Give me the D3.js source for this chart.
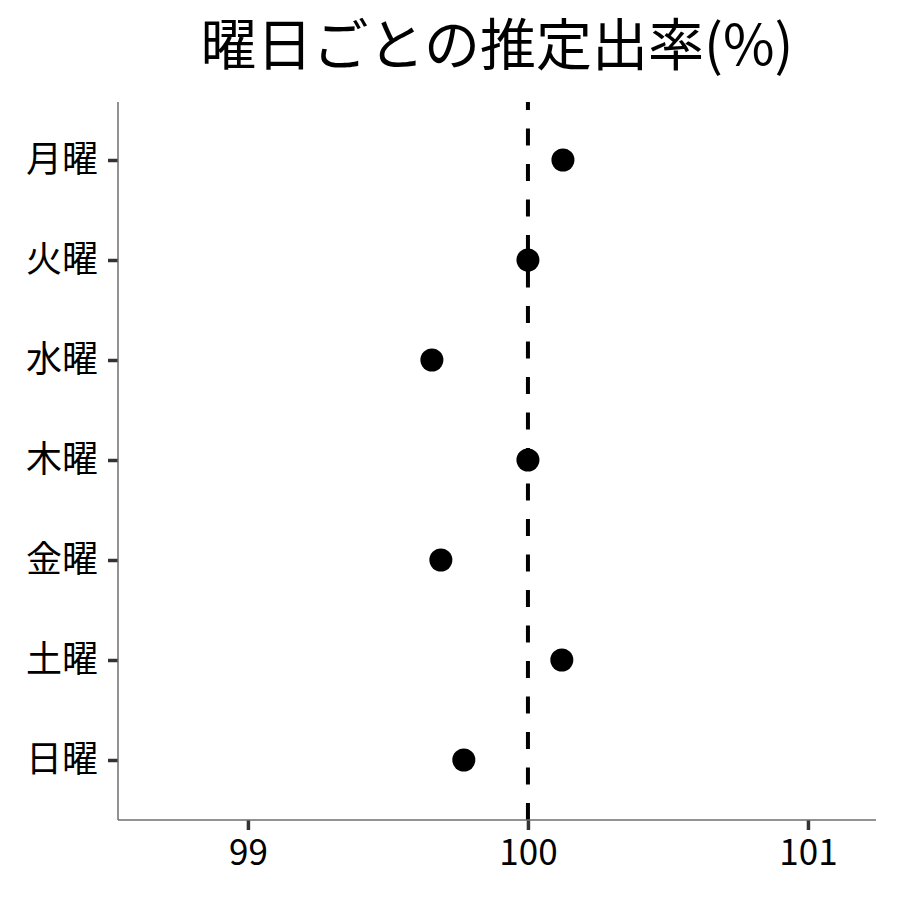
<!DOCTYPE html>
<html lang="ja">
<head>
<meta charset="UTF-8">
<title>曜日ごとの推定出率</title>
<script src="https://cdn.jsdelivr.net/npm/d3@7"></script>
<style>
    body { margin: 0; background: #fff; }
    svg { font-family: "Noto Sans CJK JP", "Noto Sans", sans-serif; }
</style>
</head>
<body>
<div id="chart"></div>
<script>
    // data
    const days = ["月曜", "火曜", "水曜", "木曜", "金曜", "土曜", "日曜"];
    const rates = [100.125, 100.0, 99.657, 100.0, 99.689, 100.121, 99.771];
    const xTicks = [99, 100, 101];
    const refLine = 100;

    const width = 900, height = 900;
    const margin = { top: 102, right: 24, bottom: 80, left: 118 };

    const svg = d3.select("#chart").append("svg")
        .attr("width", width)
        .attr("height", height);

    const x = d3.scaleLinear()
        .domain([98.536, 101.243])
        .range([margin.left, width - margin.right]);

    // discrete scale with ggplot-like 0.6 expansion
    const y = d3.scalePoint()
        .domain(days)
        .range([margin.top + 58, height - margin.bottom - 60]);

    const panelTop = margin.top, panelBottom = height - margin.bottom;

    // title
    svg.append("text")
        .attr("x", (margin.left + width - margin.right) / 2)
        .attr("y", 65)
        .attr("text-anchor", "middle")
        .attr("font-size", 56)
        .attr("fill", "#000")
        .text("曜日ごとの推定出率(%)");

    // reference line, drawn bottom to top
    svg.append("line")
        .attr("x1", x(refLine)).attr("x2", x(refLine))
        .attr("y1", panelBottom).attr("y2", panelTop)
        .attr("stroke", "#000")
        .attr("stroke-width", 4)
        .attr("stroke-dasharray", "17,18.5");

    // axes
    const xAxis = svg.append("g")
        .attr("transform", `translate(0,${panelBottom})`)
        .call(d3.axisBottom(x).tickValues(xTicks).tickSize(10).tickPadding(10).tickFormat(d3.format("d")));
    xAxis.select(".domain").remove();
    xAxis.selectAll(".tick line").attr("stroke", "#333").attr("stroke-width", 3.5);
    xAxis.selectAll(".tick text").attr("font-size", 35).attr("fill", "#000")
        .attr("font-family", "\"Noto Sans CJK JP\", sans-serif");

    const yAxis = svg.append("g")
        .attr("transform", `translate(${margin.left},0)`)
        .call(d3.axisLeft(y).tickSize(10).tickPadding(10));
    yAxis.select(".domain").remove();
    yAxis.selectAll(".tick line").attr("stroke", "#333").attr("stroke-width", 3.5);
    yAxis.selectAll(".tick text").attr("font-size", 36).attr("fill", "#000")
        .attr("font-family", "\"Noto Sans CJK JP\", sans-serif");

    // axis lines
    svg.append("line")
        .attr("x1", margin.left).attr("x2", width - margin.right)
        .attr("y1", panelBottom).attr("y2", panelBottom)
        .attr("stroke", "#6e6e6e").attr("stroke-width", 1.5);
    svg.append("line")
        .attr("x1", margin.left).attr("x2", margin.left)
        .attr("y1", panelTop).attr("y2", panelBottom)
        .attr("stroke", "#6e6e6e").attr("stroke-width", 1.5);

    // points
    svg.append("g")
        .selectAll("circle")
        .data(days)
        .join("circle")
        .attr("cx", (d, i) => x(rates[i]))
        .attr("cy", d => y(d))
        .attr("r", 11.5)
        .attr("fill", "#000");
</script>
</body>
</html>
